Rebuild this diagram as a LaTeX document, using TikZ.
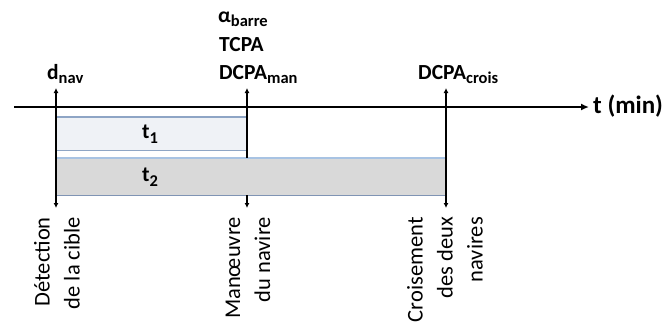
\documentclass[tikz,border=0pt]{standalone}
\usepackage{fontspec}
\setmainfont{Carlito}
\usetikzlibrary{arrows.meta}
\definecolor{tonefill}{HTML}{EFF2F6}
\definecolor{toneedge}{HTML}{8EA5C5}
\definecolor{ttwofill}{HTML}{D9D9D9}
\definecolor{ttwotop}{HTML}{A8C3E3}
\definecolor{ttwobot}{HTML}{8094B4}
\newcommand{\sbt}[1]{\raisebox{-0.22em}{\fontsize{16.5}{16.5}\selectfont #1}}
\begin{document}
\begin{tikzpicture}[x=1pt,y=-1pt,
  toplab/.style={font=\bfseries\fontsize{21.5}{24}\selectfont, inner sep=0pt, anchor=base west},
  botlab/.style={font=\fontsize{22.5}{30}\selectfont, inner sep=0pt, rotate=90, anchor=east, align=right},
  evline/.style={line width=1.6pt, {Latex[length=5pt,width=5pt]}-{Latex[length=5pt,width=5pt]}},
  axisline/.style={line width=1.8pt, -{Latex[length=8pt,width=7pt]}},
  barbox/.style={draw=none, inner sep=0pt, anchor=north west}]
\useasboundingbox (0,0) rectangle (669,325);
\clip (0,0) rectangle (669,325);
% axis
\coordinate (axL) at (14,107);
\coordinate (axR) at (589,107);
\draw[axisline] (axL) -- (axR);
\node[toplab, font=\bfseries\fontsize{25}{28}\selectfont] (tmin) at (593,113) {t (min)};
% bars
\node[barbox, fill=tonefill, minimum width=191pt, minimum height=33pt] (t1) at (56,117) {};
\draw[toneedge, line width=1.4pt] (t1.north west) -- (t1.north east);
\draw[toneedge, line width=1.4pt] (t1.south west) -- (t1.south east);
\node[barbox, fill=ttwofill, minimum width=390pt, minimum height=37pt] (t2) at (56,158) {};
\draw[ttwotop, line width=1.4pt] (t2.north west) -- (t2.north east);
\draw[ttwobot, line width=1.4pt] (t2.south west) -- (t2.south east);
\node[toplab, anchor=center] (lt1) at (150,134) {t\sbt{1}};
\node[toplab, anchor=center] (lt2) at (150,177) {t\sbt{2}};
% event lines
\coordinate (dtop) at (56,88);
\coordinate (dbot) at (56,208);
\coordinate (mtop) at (247,88);
\coordinate (mbot) at (247,208);
\coordinate (ctop) at (446,88);
\coordinate (cbot) at (446,208);
\draw[evline] (dtop) -- (dbot);
\draw[evline] (ctop) -- (cbot);
\draw[line width=1.6pt, {Latex[length=5pt,width=5pt]}-] (mtop) -- (mtop |- t2.north);
\draw[line width=1.6pt, -{Latex[length=5pt,width=5pt]}] (mtop |- t2.south) -- (mbot);
% top labels
\node[toplab] (ldnav) at (47,79) {d\sbt{nav}};
\node[toplab] (lalpha) at (218,22) {α\sbt{barre}};
\node[toplab] (ltcpa) at (219,51) {TCPA};
\node[toplab] (ldman) at (219,79) {DCPA\sbt{man}};
\node[toplab] (ldcr) at (418,79) {DCPA\sbt{crois}};
% bottom labels
\node[botlab] (ldet) at (57,217) {Détection\\de la cible};
\node[botlab] (lman) at (248,217) {Manœuvre\\du navire};
\node[botlab] (lcro) at (445,217) {Croisement\\des deux\\navires};
\end{tikzpicture}
\end{document}
